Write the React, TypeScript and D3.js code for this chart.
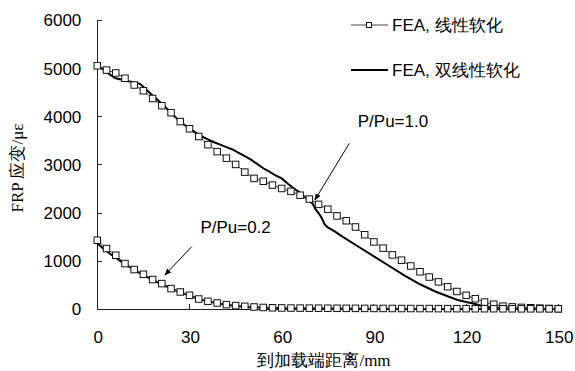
import React from 'react';
import * as d3 from 'd3';

// distance from loaded end (mm) for the marker series
const distMarked = [0, 3, 6, 9, 12, 15, 18, 21, 24, 27, 30, 33, 36, 39, 42, 45, 48, 51, 54, 57, 60, 63, 66, 69, 72, 75, 78, 81, 84, 87, 90, 93, 96, 99, 102, 105, 108, 111, 114, 117, 120, 123, 126, 129, 132, 135, 138, 141, 144, 147, 150];
// FEA, linear softening
const linearHigh = [5060, 4970, 4910, 4800, 4660, 4540, 4380, 4230, 4085, 3900, 3750, 3590, 3420, 3275, 3140, 3010, 2850, 2720, 2660, 2580, 2510, 2450, 2370, 2290, 2180, 2080, 1940, 1840, 1710, 1550, 1400, 1270, 1130, 1020, 900, 780, 670, 570, 470, 370, 290, 220, 150, 105, 65, 50, 40, 32, 25, 18, 12];
const linearLow = [1435, 1262, 1123, 950, 826, 728, 618, 534, 430, 360, 291, 214, 166, 131, 97, 77, 62, 48, 38, 32, 28, 26, 25, 24, 23, 22, 21, 20, 20, 19, 18, 18, 17, 16, 16, 15, 15, 14, 14, 13, 13, 12, 12, 12, 11, 11, 10, 10, 10, 10, 10];

// FEA, bilinear softening
const distBiHigh = [0, 2, 4, 6, 8, 10, 12, 14, 16, 18, 20, 22, 24, 26, 28, 30, 32, 34, 36, 38, 40, 42, 44, 46, 48, 50, 52, 54, 56, 58, 60, 62, 64, 66, 68, 70, 71, 72, 73, 74, 75, 77, 80, 85, 90, 95, 100, 105, 110, 114, 117, 120, 123, 126, 129, 133, 140, 150];
const bilinearHigh = [5070, 4980, 4880, 4800, 4770, 4740, 4720, 4680, 4560, 4440, 4330, 4210, 4080, 3960, 3850, 3760, 3670, 3590, 3530, 3470, 3420, 3370, 3320, 3250, 3180, 3110, 3020, 2930, 2860, 2780, 2720, 2610, 2510, 2420, 2300, 2200, 2080, 2000, 1900, 1760, 1700, 1630, 1500, 1300, 1100, 900, 700, 520, 370, 270, 200, 150, 110, 55, 30, 15, 10, 5];
const distBiLow = [0, 2, 4, 6, 8, 10, 12, 15, 18, 21, 24, 27, 30, 33, 36, 39, 42, 45, 50, 55, 60, 80, 110, 150];
const bilinearLow = [1370, 1260, 1160, 1070, 980, 900, 820, 710, 610, 520, 430, 355, 285, 215, 165, 125, 95, 70, 45, 30, 20, 10, 6, 5];

const xTicks = [0, 30, 60, 90, 120, 150];
const yTicks = [0, 1000, 2000, 3000, 4000, 5000, 6000];
const legendLabels = ['FEA, 线性软化', 'FEA, 双线性软化'];
const notes = [
  { text: 'P/Pu=1.0', at: [96.2, 3918], from: [82, 3449], to: [70.8, 2271] },
  { text: 'P/Pu=0.2', at: [45, 1716], from: [30.7, 1301], to: [22, 713] },
];

const width = 575;
const height = 371;
const sans = '"Liberation Sans", Arial, sans-serif';
const serif = '"Liberation Serif", "Times New Roman", serif';

export default function App() {
  const x = d3.scaleLinear().domain([0, 150]).range([97.3, 558.3]);
  const y = d3.scaleLinear().domain([0, 6000]).range([309.3, 20.5]);

  const line = d3.line<[number, number]>()
    .x(d => x(d[0]))
    .y(d => y(d[1]));

  const zip = (xs: number[], ys: number[]) => xs.map((v, i) => [v, ys[i]] as [number, number]);
  const markedSeries = [zip(distMarked, linearHigh), zip(distMarked, linearLow)];
  const solidSeries = [zip(distBiHigh, bilinearHigh), zip(distBiLow, bilinearLow)];

  const sq = 6.5;

  return (
    <svg width={width} height={height} style={{ position: 'absolute', left: 0, top: 0, background: '#fff' }}>
      <defs>
        <marker id="arr" viewBox="0 0 10 10" refX="9" refY="5" markerWidth="7" markerHeight="7" orient="auto">
          <path d="M0,1 L10,5 L0,9 z" fill="#000" />
        </marker>
      </defs>

      {/* axes */}
      <g stroke="#222" strokeWidth={1} shapeRendering="crispEdges">
        <line x1={x(0)} x2={x(0)} y1={y(0)} y2={y(6000)} />
        <line x1={x(0)} x2={x(150)} y1={y(0)} y2={y(0)} />
        {yTicks.map(t => <line key={'yt' + t} x1={x(0)} x2={x(0) + 5} y1={y(t)} y2={y(t)} />)}
        {xTicks.map(t => <line key={'xt' + t} x1={x(t)} x2={x(t)} y1={y(0)} y2={y(0) - 5} />)}
      </g>
      <g fontFamily={sans} fontSize={17} fill="#000">
        {yTicks.map(t => (
          <text key={'yl' + t} x={x(0) - 16} y={y(t)} dy="0.35em" textAnchor="end">{t}</text>
        ))}
        {xTicks.map(t => (
          <text key={'xl' + t} x={x(t) + 1} y={343} textAnchor="middle">{t}</text>
        ))}
      </g>
      <text x={324} y={366} textAnchor="middle" fontFamily={serif} fontSize={17}>到加载端距离/mm</text>
      <text transform={`translate(23,168) rotate(-90)`} textAnchor="middle" fontFamily={serif} fontSize={17}>FRP 应变/με</text>

      {/* bilinear softening curves */}
      {solidSeries.map((s, i) => (
        <path key={'s' + i} d={line(s) || ''} fill="none" stroke="#000" strokeWidth={2} />
      ))}

      {/* linear softening curves with square markers */}
      {markedSeries.map((s, i) => (
        <g key={'m' + i}>
          <path d={line(s) || ''} fill="none" stroke="#444" strokeWidth={1} />
          {s.map((d, j) => (
            <rect key={j} x={x(d[0]) - sq / 2} y={y(d[1]) - sq / 2} width={sq} height={sq}
              fill="#fff" stroke="#111" strokeWidth={1} />
          ))}
        </g>
      ))}

      {/* annotations */}
      {notes.map(n => (
        <g key={n.text}>
          <text x={x(n.at[0])} y={y(n.at[1])} dy="0.35em" textAnchor="middle" fontFamily={sans} fontSize={17}>{n.text}</text>
          <line x1={x(n.from[0])} y1={y(n.from[1])} x2={x(n.to[0])} y2={y(n.to[1])}
            stroke="#000" strokeWidth={1} markerEnd="url(#arr)" />
        </g>
      ))}

      {/* legend */}
      <g fontFamily={sans} fontSize={17}>
        <line x1={351} x2={388} y1={25} y2={25} stroke="#444" strokeWidth={1} />
        <rect x={366.5} y={22.5} width={5} height={5} fill="#fff" stroke="#111" />
        <text x={392} y={25} dy="0.35em">{legendLabels[0]}</text>
        <line x1={351} x2={388} y1={70} y2={70} stroke="#000" strokeWidth={2} />
        <text x={392} y={70} dy="0.35em">{legendLabels[1]}</text>
      </g>
    </svg>
  );
}
